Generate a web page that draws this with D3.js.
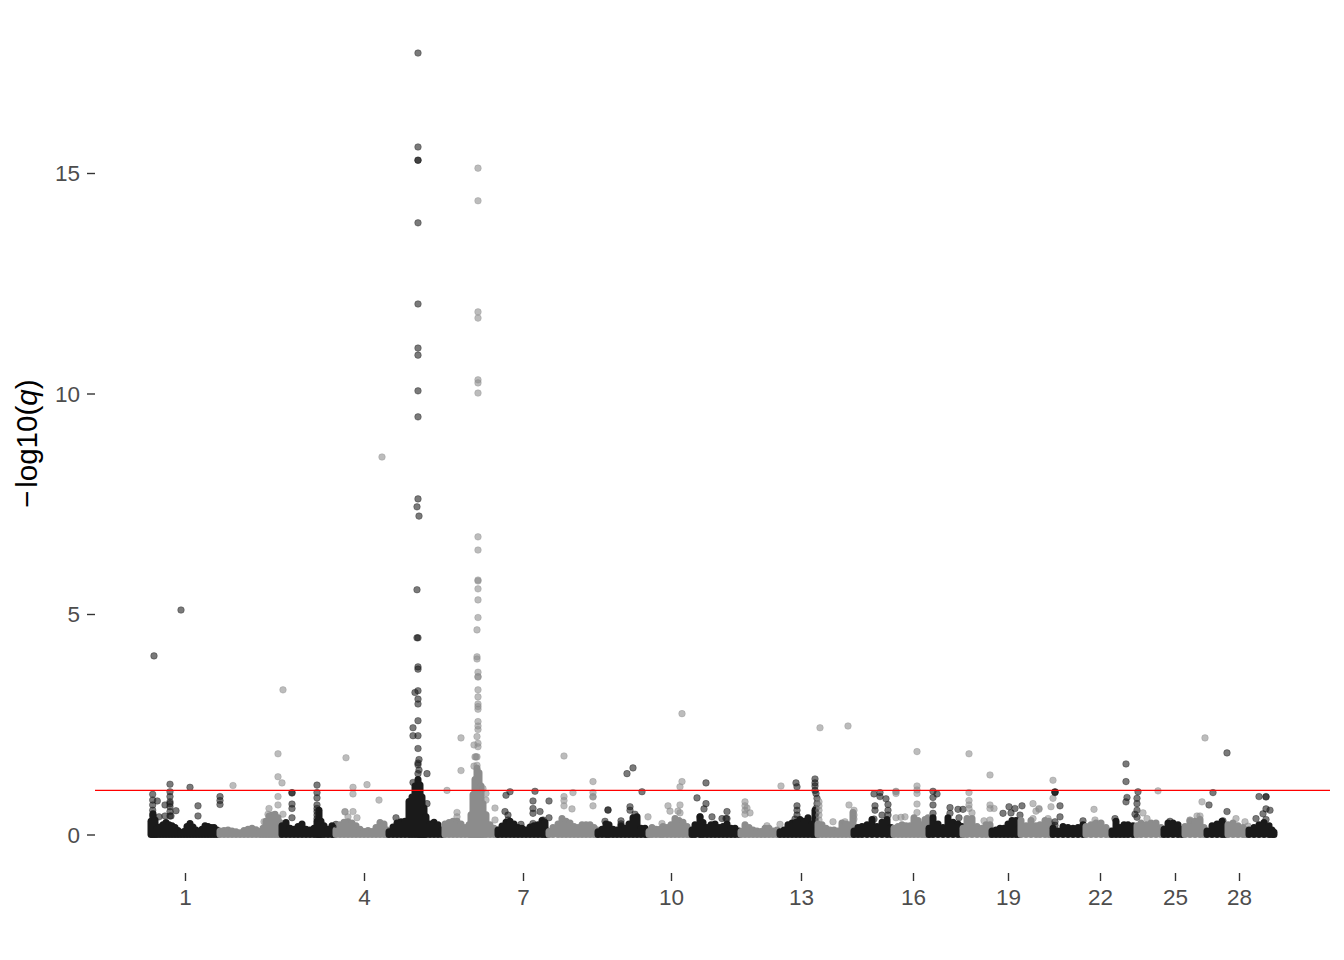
<!DOCTYPE html>
<html>
<head>
<meta charset="utf-8">
<script src="https://cdnjs.cloudflare.com/ajax/libs/d3/7.8.5/d3.min.js"></script>
<style>
  html, body { margin: 0; padding: 0; background: #fff; }
  svg { display: block; }
  text { font-family: "Liberation Sans", Arial, sans-serif; }
</style>
</head>
<body>
<div class="chart"></div>
<script>
// genome position, -log10(q)
var tickPos = [37, 216, 375, 523, 653, 765, 860, 952, 1027, 1091];
var tickLabels = ["1", "4", "7", "10", "13", "16", "19", "22", "25", "28"];
var yTicks = [0, 5, 10, 15];
var threshold = 1;

// top of the solid mass of points, odd chromosomes
var massDark = [
  [3,.3],[5,.47],[7,.33],[9,.14],[12,.17],[15,.22],[18,.27],[21,.22],[24,.2],[27,.16],[30,.09],[33,.04],[36,.07],[39,.18],[42,.25],[45,.17],[48,.1],[51,.06],[54,.12],[57,.2],[60,.18],[63,.16],[66,.16],[69,.1],
  [134,.2],[138,.27],[142,.14],[146,.12],[150,.18],[154,.24],[158,.12],[162,.1],[166,.14],[169,.3],[171,.55],[173,.3],[176,.2],[180,.12],[184,.2],[186,.14],
  [241,.06],[245,.17],[249,.26],[253,.29],[257,.3],[261,.75],[264,.85],[267,1.1],[270,1.25],[272,1.12],[274,.85],[276,.6],[278,.4],[282,.24],[286,.28],[290,.22],[294,.1],
  [350,.1],[354,.19],[358,.28],[362,.3],[366,.24],[370,.16],[374,.14],[378,.1],[382,.17],[386,.2],[390,.22],[394,.32],[397,.27],[399,.08],
  [450,.06],[454,.12],[458,.24],[461,.22],[465,.12],[469,.1],[473,.2],[477,.14],[481,.24],[485,.38],[489,.4],[493,.14],[497,.14],[499,.08],
  [544,.1],[547,.22],[552,.4],[555,.27],[559,.16],[563,.22],[567,.24],[571,.16],[575,.18],[579,.24],[583,.14],[587,.14],[591,.08],
  [632,.06],[636,.1],[640,.22],[644,.26],[648,.28],[652,.34],[656,.3],[660,.38],[664,.24],[667,.55],[669,.12],
  [706,.08],[710,.16],[714,.18],[719,.22],[724,.34],[729,.18],[734,.28],[739,.34],[743,.16],
  [781,.14],[785,.38],[790,.24],[795,.16],[800,.38],[805,.28],[810,.24],[814,.18],
  [844,.08],[848,.1],[852,.14],[856,.14],[860,.24],[864,.32],[868,.32],[871,.14],
  [905,.14],[910,.08],[915,.18],[920,.16],[925,.14],[930,.16],[935,.22],
  [964,.08],[968,.3],[972,.16],[976,.22],[980,.22],[985,.2],
  [1016,.12],[1020,.26],[1025,.26],[1030,.22],[1034,.12],
  [1059,.08],[1064,.2],[1069,.24],[1074,.3],[1077,.16],
  [1101,.1],[1106,.16],[1111,.22],[1116,.27],[1121,.2],[1124,.1],[1126,.05]
];

// top of the solid mass of points, even chromosomes
var massGrey = [
  [72,.08],[76,.09],[80,.1],[84,.08],[88,.06],[92,.04],[96,.09],[100,.12],[104,.14],[108,.11],[112,.07],[115,.14],[118,.3],[121,.42],[124,.44],[127,.46],[130,.38],[132,.27],
  [188,.1],[192,.22],[196,.28],[200,.29],[204,.26],[208,.2],[212,.12],[216,.07],[220,.09],[224,.07],[228,.16],[232,.27],[236,.24],[239,.1],
  [297,.24],[301,.27],[305,.3],[309,.3],[313,.24],[317,.16],[321,.22],[323,.45],[325,.9],[327,1.25],[329,1.5],[331,1.4],[333,1.1],[335,.7],[338,.45],[342,.22],[346,.14],[349,.1],
  [401,.07],[405,.16],[410,.24],[414,.36],[418,.3],[422,.26],[426,.18],[430,.16],[434,.22],[438,.22],[442,.22],[446,.16],[449,.1],
  [501,.07],[504,.16],[508,.12],[512,.12],[515,.18],[519,.16],[523,.22],[527,.36],[531,.32],[535,.28],[539,.18],[542,.1],
  [593,.07],[597,.22],[601,.16],[605,.1],[609,.08],[613,.07],[617,.14],[621,.14],[625,.08],[629,.1],
  [670,.24],[674,.22],[678,.14],[682,.1],[686,.1],[690,.08],[694,.26],[698,.24],[702,.22],[705,.5],
  [746,.14],[750,.18],[754,.22],[758,.2],[762,.2],[766,.38],[770,.32],[774,.22],[777,.34],[780,.38],
  [815,.14],[819,.36],[824,.36],[829,.18],[834,.14],[838,.22],[842,.22],
  [873,.32],[878,.2],[883,.32],[888,.2],[892,.22],[897,.32],[901,.3],[904,.22],
  [938,.18],[943,.22],[948,.26],[953,.26],[958,.16],[962,.08],
  [989,.2],[993,.26],[998,.22],[1003,.26],[1008,.26],[1013,.16],
  [1037,.18],[1042,.3],[1047,.3],[1052,.34],[1056,.16],
  [1080,.22],[1085,.26],[1090,.2],[1095,.16],[1098,.1]
];

// single points above the mass, odd chromosomes
var hitsDark = [
  [6,4.05],[33,5.09],[42,1.07],[50,.65],[50,.42],[72,.86],[72,.77],[72,.68],
  [22,1.14],[22,.97],[22,.86],[22,.74],[22,.7],[22,.63],[22,.52],[22,.42],[4.7,.91],[4.7,.78],[4.7,.67],[4.7,.55],[4.7,.44],[9.3,.76],[17,.67],[28,.54],[11,.4],[17,.42],[23,.42],
  [144,.95],[144,.94],[144,.69],[144,.59],[144,.38],[169,1.12],[169,.95],[169,.83],[169,.67],[169,.59],[169,.52],[169,.44],[169,.36],[188,.23],
  [270,17.72],[270,15.59],[270,15.29],[270,15.29],[270,13.87],[270,12.03],[270,11.03],[270,10.87],[270,10.06],[270,9.47],[270,7.61],[269,7.43],[271,7.22],[269,5.55],[269,4.46],[270,4.46],[270,3.8],[270,3.75],[270,3.26],[267,3.22],[270,3.07],[270,2.96],[270,2.58],[265,2.42],[265,2.24],[270,2.24],[270,1.95],[271,1.7],[270,1.62],[270,1.58],[271,1.46],[270,1.38],[279,1.38],[265,1.18],[279,.7],[248,.38],
  [362,.97],[358,.89],[357,.52],[360,.44],[360,.33],[373,.23],[387,.98],[385,.76],[385,.59],[385,.48],[385,.25],[401,.76],[392,.52],[401,.38],[395,.33],
  [479,1.38],[485,1.51],[494,.97],[460,.56],[460,.55],[482,.63],[482,.55],[487,.46],[457,.3],[473,.31],[473,.24],
  [558,1.17],[549,.83],[558,.7],[556,.58],[552,.4],[564,.4],[579,.52],[574,.36],[578,.36],[579,.36],
  [648,1.17],[649,1.08],[649,.65],[649,.55],[649,.44],[647,.35],[667,1.26],[667,1.17],[667,1.1],[667,1],[668,.93],[669,.82],[669,.7],[668,.59],[668,.48],[667,.36],
  [726,.92],[732,.95],[732,.86],[738,.81],[740,.68],[740,.55],[740,.44],[727,.65],[727,.55],[726,.35],[734,.44],
  [785,.98],[789,.92],[785,.84],[785,.67],[785,.48],[802,.61],[802,.48],[810,.57],[815,.57],[811,.38],
  [855,.48],[861,.63],[863,.49],[867,.59],[874,.65],[872,.44],
  [907,.97],[907,.96],[907,.95],[912,.65],[912,.4],[907,.29],[907,.21],[935,.31],
  [978,1.6],[978,1.2],[979,.84],[978,.74],[990,.97],[989,.82],[989,.7],[967,.36],[989,.55],[987,.46],[989,.39],
  [1022,.3],
  [1079,1.85],[1065,.95],[1061,.67],[1079,.52],[1075,.31],
  [1111,.86],[1118,.86],[1118,.85],[1118,.58],[1122,.55],[1115,.47],[1108,.36],[1118,.34]
];

// single points above the mass, even chromosomes
var hitsGrey = [
  [135,3.28],[130,1.83],[130,1.31],[134,1.17],[130,.86],[130,.67],[121,.59],[120,.46],[135,.46],[116,.29],[85,1.11],
  [234,8.56],[198,1.74],[205,1.07],[205,.92],[219,1.13],[231,.78],[197,.52],[197,.51],[205,.52],[209,.38],[200,.4],
  [330,15.11],[330,14.37],[330,11.85],[330,11.71],[330,10.31],[330,10.24],[330,10.01],[330,6.75],[330,6.45],[330,5.77],[330,5.75],[330,5.57],[330,5.32],[330,4.92],[329,4.64],[329,4.03],[329,3.98],[330,3.68],[330,3.58],[330,3.57],[330,3.28],[330,3.12],[330,2.96],[330,2.9],[330,2.84],[330,2.56],[330,2.46],[330,2.38],[329,2.22],[330,2.07],[326,2.03],[330,1.99],[328,1.76],[329,1.76],[327,1.76],[329,1.57],[326,1.55],[330,1.39],
  [313,2.19],[313,1.45],[299,1],[309,.5],[309,.4],[347,.6],[347,.33],[335,1.04],[338,.93],[338,.78],
  [416,1.78],[445,1.2],[445,.95],[445,.86],[445,.85],[445,.65],[425,.95],[416,.86],[416,.77],[416,.65],[424,.58],
  [534,2.74],[534,1.2],[532,1.08],[520,.65],[532,.67],[522,.53],[532,.49],[530,.53],[500,.4],[514,.25],
  [597,.74],[597,.65],[597,.55],[602,.49],[597,.46],[599,.6],[619,.2],[632,.23],[633,1.1],
  [672,2.42],[700,2.46],[671,.74],[671,.65],[671,.55],[671,.44],[671,.33],[685,.29],[701,.67],[706,.55],[706,.44],[706,.35],[697,.29],
  [748,.98],[748,.97],[748,.93],[748,.38],[757,.4],[753,.39],[769,1.88],[769,1.1],[769,1.01],[769,.93],[769,.69],[769,.5],
  [821,1.83],[821,.95],[821,.77],[821,.67],[821,.59],[824,.49],[842,1.35],[842,.67],[842,.59],[846,.59],[836,.31],[842,.33],
  [885,.7],[888,.53],[891,.59],[891,.57],[903,.63],[905,1.23],[905,.82],[885,.36],[900,.36],
  [946,.57],[947,.33],
  [1010,.99],[995,.49],[999,.36],
  [1057,2.19],[1054,.74],[1049,.42],[1052,.42],[1042,.33],[1042,.32],
  [1088,.36],[1097,.29],[1100,.19]
];

var width = 1344, height = 960;
var panelLeft = 95, panelRight = 1330;

var x = d3.scaleLinear().domain([0, 1130]).range([148, 1278]);
var y = d3.scaleLinear().domain([0, 15]).range([834.5, 173]);

var svg = d3.select(".chart").append("svg")
    .attr("width", width)
    .attr("height", height);

var marks = svg.append("g");

function addMass(data, colour) {
  marks.selectAll(null)
      .data(data)
      .enter().append("line")
      .attr("class", "mark")
      .attr("x1", function(d) { return x(d[0]); })
      .attr("x2", function(d) { return x(d[0]); })
      .attr("y1", y(0))
      .attr("y2", function(d) { return y(d[1]); })
      .attr("stroke", colour)
      .attr("stroke-width", 7)
      .attr("stroke-linecap", "round");
}

function addHits(data, colour) {
  marks.selectAll(null)
      .data(data)
      .enter().append("circle")
      .attr("class", "mark")
      .attr("cx", function(d) { return x(d[0]); })
      .attr("cy", function(d) { return y(d[1]); })
      .attr("r", 3.3)
      .attr("fill", colour)
      .attr("stroke", colour)
      .attr("stroke-width", 0.7)
      .attr("fill-opacity", 0.58)
      .attr("stroke-opacity", 0.5);
}

addMass(massDark, "#1a1a1a");
addMass(massGrey, "#8c8c8c");
addHits(hitsDark, "#1a1a1a");
addHits(hitsGrey, "#8c8c8c");

// same overplotting order as the original: along the genome
marks.selectAll(".mark").sort(function(a, b) { return a[0] - b[0]; });

svg.append("line")
    .attr("x1", panelLeft)
    .attr("x2", panelRight)
    .attr("y1", y(threshold))
    .attr("y2", y(threshold))
    .attr("stroke", "#ff0000")
    .attr("stroke-width", 1.07);

var xAxis = d3.axisBottom(x)
    .tickValues(tickPos)
    .tickFormat(function(d, i) { return tickLabels[i]; })
    .tickSize(8)
    .tickPadding(8);

var yAxis = d3.axisLeft(y)
    .tickValues(yTicks)
    .tickFormat(d3.format("d"))
    .tickSize(8)
    .tickPadding(7);

var gx = svg.append("g")
    .attr("transform", "translate(0,873)")
    .call(xAxis);

var gy = svg.append("g")
    .attr("transform", "translate(95,0)")
    .call(yAxis);

[gx, gy].forEach(function(g) {
  g.select(".domain").remove();
  g.selectAll(".tick line").attr("stroke", "#333333").attr("stroke-width", 1.4);
  g.selectAll(".tick text")
      .attr("fill", "#4d4d4d")
      .style("font-size", "22.5px")
      .style("font-family", "'Liberation Sans', Arial, sans-serif");
});
gy.selectAll(".tick text").attr("dy", "0.35em");

var title = svg.append("text")
    .attr("transform", "translate(37,508) rotate(-90)")
    .attr("fill", "#000")
    .style("font-size", "29.5px");
title.append("tspan").text("\u2212");
title.append("tspan").attr("dx", 3).text("log10(");
title.append("tspan").attr("font-style", "italic").text("q");
title.append("tspan").text(")");
</script>
</body>
</html>
